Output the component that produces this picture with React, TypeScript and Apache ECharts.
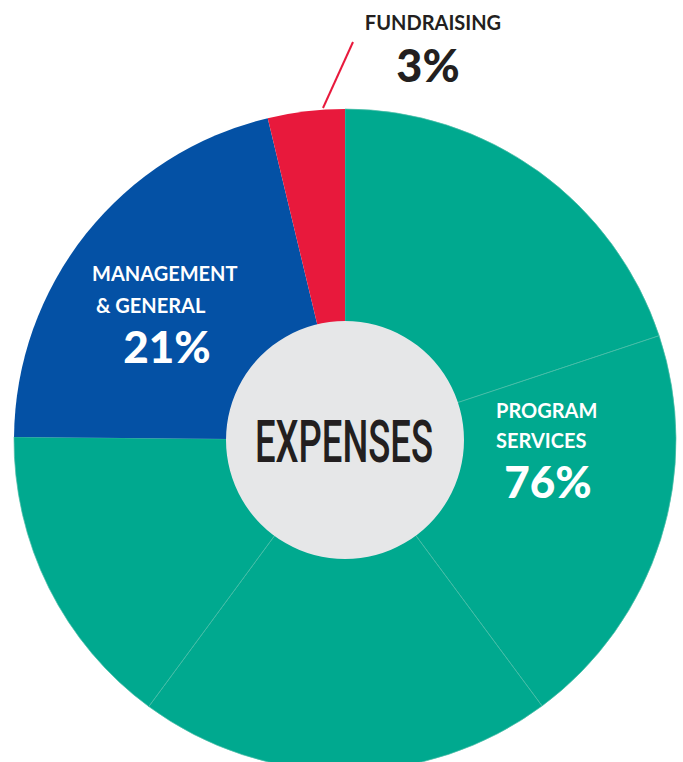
import React, { useEffect, useRef } from "react";
import * as echarts from "echarts";

// Slice data (percent of total)
const sliceNames = [
  "Program Services 1",
  "Program Services 2",
  "Program Services 3",
  "Program Services 4",
  "Management & General",
  "Fundraising",
];
const sliceValues = [19.9, 19.95, 20.25, 15.05, 21.1, 3.75];
const sliceGroups = ["program", "program", "program", "program", "management", "fundraising"];

// Labels
const programLines = ["PROGRAM", "SERVICES"];
const programPct = "76%";
const managementLines = ["MANAGEMENT", "& GENERAL"];
const managementPct = "21%";
const fundraisingLine = "FUNDRAISING";
const fundraisingPct = "3%";
const centerTitle = "EXPENSES";

const COLORS: Record<string, string> = {
  program: "#00A98F",
  management: "#0451A5",
  fundraising: "#E8193C",
};

function measure(text: string, font: string): number {
  const c = document.createElement("canvas");
  const ctx = c.getContext("2d");
  if (!ctx) return 300;
  ctx.font = font;
  return ctx.measureText(text).width;
}

export default function App() {
  const ref = useRef<HTMLDivElement>(null);
  useEffect(() => {
    document.body.style.margin = "0";
    if (!ref.current) return;
    const chart = echarts.init(ref.current, null, { renderer: "svg" });
    const cx = 345;
    const cy = 440;
    const titleFont = "500 59px Roboto";
    const titleW = measure(centerTitle, titleFont);
    const titleScale = 178 / titleW;

    const whiteLabel = (text: string, x: number, y: number, size: number, weight: any, align: string) => ({
      type: "text",
      x,
      y,
      style: {
        text,
        fill: "#ffffff",
        font: `${weight} ${size}px Lato`,
        textAlign: align,
        textVerticalAlign: "middle",
      },
      z: 10,
    });

    chart.setOption({
      animation: false,
      series: [
        {
          type: "pie",
          center: [cx, cy],
          radius: [0, 331],
          startAngle: 90,
          clockwise: true,
          label: { show: false },
          labelLine: { show: false },
          emphasis: { disabled: true },
          silent: true,
          data: sliceValues.map((v, i) => ({
            name: sliceNames[i],
            value: v,
            itemStyle: {
              color: COLORS[sliceGroups[i]],
              borderColor: sliceGroups[i] === "program" ? "#4DBFA9" : COLORS[sliceGroups[i]],
              borderWidth: sliceGroups[i] === "program" ? 0.7 : 0,
            },
          })),
        },
      ],
      graphic: [
        {
          type: "circle",
          shape: { cx, cy, r: 119 },
          style: { fill: "#E6E7E8" },
          z: 5,
        },
        {
          type: "text",
          x: 344,
          y: 442,
          scaleX: titleScale,
          style: {
            text: centerTitle,
            fill: "#231F20",
            font: titleFont,
            textAlign: "center",
            textVerticalAlign: "middle",
          },
          z: 10,
        },
        {
          type: "line",
          shape: { x1: 353, y1: 42, x2: 323, y2: 108 },
          style: { stroke: "#E8193C", lineWidth: 2 },
          z: 10,
        },
        {
          type: "text",
          x: 433,
          y: 22,
          style: {
            text: fundraisingLine,
            fill: "#231F20",
            font: "bold 20px Lato",
            textAlign: "center",
            textVerticalAlign: "middle",
          },
          z: 10,
        },
        {
          type: "text",
          x: 428,
          y: 65,
          style: {
            text: fundraisingPct,
            fill: "#231F20",
            font: "900 45px Lato",
            textAlign: "center",
            textVerticalAlign: "middle",
          },
          z: 10,
        },
        whiteLabel(managementLines[0], 92, 273, 20, "bold", "left"),
        whiteLabel(managementLines[1], 96, 305, 20, "bold", "left"),
        whiteLabel(managementPct, 167, 346, 44, 900, "center"),
        whiteLabel(programLines[0], 496, 410, 20, "bold", "left"),
        whiteLabel(programLines[1], 496, 440, 20, "bold", "left"),
        whiteLabel(programPct, 548, 481, 44, 900, "center"),
      ],
    });
    return () => chart.dispose();
  }, []);
  return <div ref={ref} style={{ width: 683, height: 762 }} />;
}
